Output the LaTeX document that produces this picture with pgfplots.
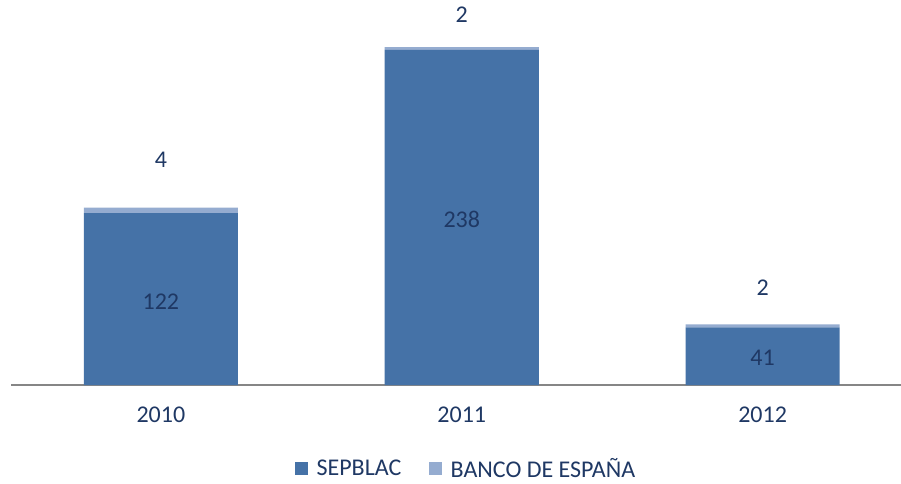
\documentclass[border=0pt]{standalone}
\usepackage{pgfplots}
\pgfplotsset{compat=1.18}
\usepackage{fontspec}
\setmainfont{Carlito}
\definecolor{sep}{RGB}{69,114,167}
\definecolor{bde}{RGB}{149,172,208}
\definecolor{txt}{RGB}{31,56,100}
\definecolor{axl}{RGB}{134,134,134}
\begin{document}
\begin{tikzpicture}
\path[use as bounding box] (0,0) rectangle (675.75pt,362.25pt);
\begin{axis}[
  anchor=south west, at={(8.25pt,73.5pt)},
  scale only axis, width=667.5pt, height=288.75pt,
  ybar stacked, bar width=115.5pt,
  xmin=-0.4983, xmax=2.4601, ymin=0, ymax=273.4,
  axis y line=none, axis x line*=bottom,
  x axis line style={draw=axl, line width=1.3pt, -},
  xtick=data, xticklabels={2010,2011,2012},
  xtick style={draw=none},
  ticklabel style={font=\fontsize{18}{21}\selectfont, text=txt},
  xticklabel style={yshift=-13pt},
  /pgf/number format/assume math mode=true,
  clip=false,
  legend style={at={(0.5118,-0.218)}, anchor=center, draw=none, legend columns=2,
    font=\fontsize{18}{21}\selectfont, text=txt,
    /tikz/every even column/.append style={column sep=19pt}},
  legend image code/.code={\fill[#1] (0pt,-4.9pt) rectangle (9.75pt,4.9pt); \path (14pt,0pt);},
]
\addplot[fill=sep, draw=none] coordinates {(0,122) (1,238) (2,41)};
\addplot[fill=bde, draw=none] coordinates {(0,4) (1,2) (2,2)};
\legend{SEPBLAC, BANCO DE ESPAÑA}
\coordinate (a1) at (axis cs:0,59);
\coordinate (a2) at (axis cs:1,117.5);
\coordinate (a3) at (axis cs:2,19.5);
\coordinate (b1) at (axis cs:0,159.8);
\coordinate (b2) at (axis cs:1,262.8);
\coordinate (b3) at (axis cs:2,68.9);
\end{axis}
\begin{scope}[every node/.style={text=txt, font=\fontsize{18}{21}\selectfont}]
\node at (a1) {122};
\node at (a2) {238};
\node at (a3) {41};
\node at (b1) {4};
\node at (b2) {2};
\node at (b3) {2};
\end{scope}
\end{tikzpicture}
\end{document}
